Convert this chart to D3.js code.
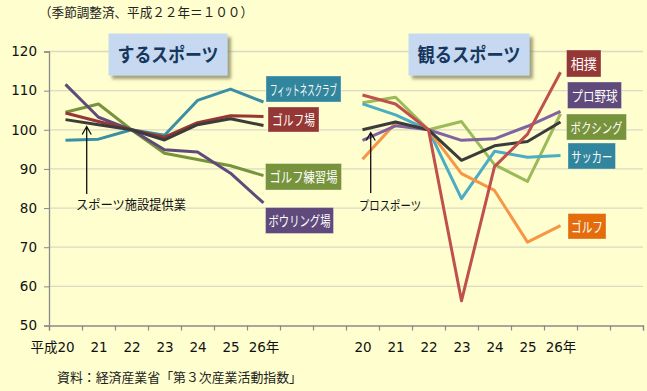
<!DOCTYPE html>
<html><head><meta charset="utf-8">
<script src="https://cdn.jsdelivr.net/npm/d3@7/dist/d3.min.js"></script>
<style>
html,body{margin:0;padding:0;background:#FEFECE;}
svg{display:block;}
</style></head>
<body><svg id="c" width="647" height="391"></svg>
<script>
// ---- data ----
const years = ["20","21","22","23","24","25","26年"];
const yTicks = [50,60,70,80,90,100,110,120];
// するスポーツ
const sportsFacility = [102.6,101.3,100,97.4,101.3,102.8,101.1];
const fitnessClub    = [97.3,97.6,100,98.6,107.5,110.4,107.1];
const golfCourse     = [104.3,102.1,100,98.1,101.8,103.6,103.4];
const golfRange      = [104.5,106.6,100,94.0,92.4,90.8,88.3];
const bowling        = [111.6,103.2,100,94.9,94.3,88.9,81.3];
// 観るスポーツ
const proSports   = [100.0,102.0,100,92.2,95.9,97.0,102.0];
const sumo        = [108.9,106.6,100,56.3,90.6,98.9,114.7];
const proBaseball = [97.3,101.0,100,97.3,97.7,100.9,104.7];
const boxing      = [106.9,108.3,100,102.1,91.1,86.8,104.1];
const soccer      = [106.6,103.8,100,82.4,94.5,93.0,93.4];
const golf        = [92.5,101.7,100,88.8,84.5,71.3,75.5];

const leftSeries = [
  {name:"フィットネスクラブ", values:fitnessClub, color:"#3A8FA6"},
  {name:"ゴルフ練習場", values:golfRange, color:"#77933C"},
  {name:"ボウリング場", values:bowling, color:"#604A7B"},
  {name:"ゴルフ場", values:golfCourse, color:"#953735"},
  {name:"スポーツ施設提供業", values:sportsFacility, color:"#3B3B3B"}
];
const rightSeries = [
  {name:"ボクシング", values:boxing, color:"#9BBB59"},
  {name:"サッカー", values:soccer, color:"#4BACC6"},
  {name:"ゴルフ", values:golf, color:"#F79646"},
  {name:"プロ野球", values:proBaseball, color:"#8064A2"},
  {name:"プロスポーツ", values:proSports, color:"#3B3B3B"},
  {name:"相撲", values:sumo, color:"#C0504D"}
];

// ---- layout ----
const svg = d3.select("#c");
const nSlots = 18, rightOffset = 9;
const xb = d3.scaleLinear().domain([0,nSlots]).range([49,643]);
const y = d3.scaleLinear().domain([50,120]).range([325.5,51.5]);
const cjk = "'Noto Sans CJK JP', sans-serif";
const num = "'DejaVu Sans', 'Noto Sans CJK JP', sans-serif";

const defs = svg.append("defs");
const f = defs.append("filter").attr("id","sh").attr("x","-20%").attr("y","-20%").attr("width","150%").attr("height","160%");
f.append("feDropShadow").attr("dx",3.5).attr("dy",3.5).attr("stdDeviation",1.6)
 .attr("flood-color","#6f6f50").attr("flood-opacity",0.65);

// gridlines
svg.append("g").selectAll("line").data(yTicks.filter(d=>d>50)).join("line")
  .attr("x1",xb(0)).attr("x2",xb(nSlots))
  .attr("y1",d=>y(d)).attr("y2",d=>y(d))
  .attr("stroke","#DCDAC4").attr("stroke-width",1.3);

// y axis
const ya = svg.append("g").attr("transform",`translate(${xb(0)},0)`)
  .call(d3.axisLeft(y).tickValues(yTicks).tickSize(5).tickPadding(7));
ya.select(".domain").attr("stroke","#8A8A8A").attr("stroke-width",1.3);
ya.selectAll(".tick line").attr("stroke","#8A8A8A");
ya.selectAll("text").attr("font-family",num).attr("font-size",13.5).attr("fill","#111");

// x axis: boundary ticks
const xa = svg.append("g").attr("transform",`translate(0,${y(50)})`)
  .call(d3.axisBottom(xb).tickValues(d3.range(0,nSlots+1)).tickSize(5).tickFormat(""));
xa.select(".domain").attr("stroke","#8A8A8A").attr("stroke-width",1.3);
xa.selectAll(".tick line").attr("stroke","#8A8A8A").attr("stroke-width",1.2);

// x labels at category centres
const labelPos = [];
years.forEach((t,i)=>{ labelPos.push({v:i+0.5,t}); labelPos.push({v:rightOffset+i+0.5,t}); });
const xl = svg.append("g").attr("transform",`translate(0,${y(50)})`)
  .call(d3.axisBottom(xb).tickValues(labelPos.map(d=>d.v)).tickSize(0).tickPadding(17)
     .tickFormat(d=>labelPos.find(p=>p.v===d).t));
xl.select(".domain").remove();
xl.selectAll("text").attr("font-family",num).attr("font-size",13.5).attr("fill","#111");
svg.append("text").attr("x",xb(0.5)-8).attr("y",351.5).attr("text-anchor","end")
  .attr("font-family",cjk).attr("font-size",13.5).attr("fill","#111").text("平成");

// lines
function drawPanel(series, offset){
  const line = d3.line().x((d,i)=>xb(offset+i+0.5)).y(d=>y(d));
  svg.append("g").selectAll("path").data(series).join("path")
    .attr("d",d=>line(d.values)).attr("fill","none")
    .attr("stroke",d=>d.color).attr("stroke-width",3)
    .attr("stroke-linejoin","round").attr("stroke-linecap","butt");
}
drawPanel(leftSeries,0);
drawPanel(rightSeries,rightOffset);

// panel titles
function titleBox(x0,y0,w,h,txt){
  svg.append("rect").attr("x",x0).attr("y",y0).attr("width",w).attr("height",h)
    .attr("fill","#C6D9F1").attr("filter","url(#sh)");
  svg.append("text").attr("x",x0+w/2).attr("y",y0+h/2+7).attr("text-anchor","middle")
    .attr("font-family",cjk).attr("font-weight","bold").attr("font-size",19)
    .attr("fill","#17375E").attr("textLength",w-18).attr("lengthAdjust","spacingAndGlyphs").text(txt);
}
titleBox(108.5,33.5,119,42,"するスポーツ");
titleBox(408.5,33.5,121,42,"観るスポーツ");

// series label boxes
const boxes = [
  {t:"フィットネスクラブ", x:266, y:76, w:75, h:26, c:"#31859C", tl:67},
  {t:"ゴルフ場", x:268, y:107, w:51, h:25, c:"#953735", tl:43},
  {t:"ゴルフ練習場", x:265.5, y:163.5, w:76, h:26.5, c:"#77933C", tl:68},
  {t:"ボウリング場", x:265.5, y:207.5, w:68, h:26, c:"#604A7B", tl:62},
  {t:"相撲", x:566.5, y:50, w:34.5, h:27, c:"#953735", tl:26},
  {t:"プロ野球", x:567.5, y:82, w:54, h:26.5, c:"#604A7B", tl:46},
  {t:"ボクシング", x:566.5, y:114, w:60, h:26, c:"#77933C", tl:52},
  {t:"サッカー", x:568, y:143, w:47.5, h:26, c:"#31859C", tl:41},
  {t:"ゴルフ", x:568, y:213.5, w:38, h:25.5, c:"#E46C0A", tl:32}
];
const bg = svg.append("g").selectAll("g").data(boxes).join("g");
bg.append("rect").attr("x",d=>d.x).attr("y",d=>d.y).attr("width",d=>d.w).attr("height",d=>d.h)
  .attr("fill",d=>d.c).attr("stroke","rgba(255,255,255,0.35)").attr("stroke-width",1);
bg.append("text").attr("x",d=>d.x+d.w/2).attr("y",d=>d.y+d.h/2+5.5).attr("text-anchor","middle")
  .attr("font-family",cjk).attr("font-size",14).attr("fill","#fff")
  .attr("textLength",d=>d.tl).attr("lengthAdjust","spacingAndGlyphs").text(d=>d.t);

// annotations
function arrow(x,tip,bottom){
  svg.append("path").attr("d",`M${x},${bottom}L${x},${tip}M${x-4.5},${tip+8}L${x},${tip}L${x+4.5},${tip+8}`)
    .attr("fill","none").attr("stroke","#111").attr("stroke-width",1.3);
}
arrow(86.7,126.5,194);
arrow(370.7,132.5,193);
svg.append("text").attr("x",76).attr("y",208.5).attr("font-family",cjk).attr("font-size",13)
  .attr("fill","#111").attr("textLength",110).attr("lengthAdjust","spacingAndGlyphs").text("スポーツ施設提供業");
svg.append("text").attr("x",359).attr("y",210).attr("font-family",cjk).attr("font-size",13)
  .attr("fill","#111").attr("textLength",62).attr("lengthAdjust","spacingAndGlyphs").text("プロスポーツ");

// header and source
svg.append("text").attr("x",39).attr("y",17).attr("font-family",cjk).attr("font-size",13)
  .attr("fill","#222").attr("textLength",214).attr("lengthAdjust","spacingAndGlyphs")
  .text("（季節調整済、平成２２年＝１００）");
svg.append("text").attr("x",57).attr("y",381.5).attr("font-family",cjk).attr("font-size",13)
  .attr("fill","#222").attr("textLength",245).attr("lengthAdjust","spacingAndGlyphs")
  .text("資料：経済産業省「第３次産業活動指数」");
</script></body></html>
